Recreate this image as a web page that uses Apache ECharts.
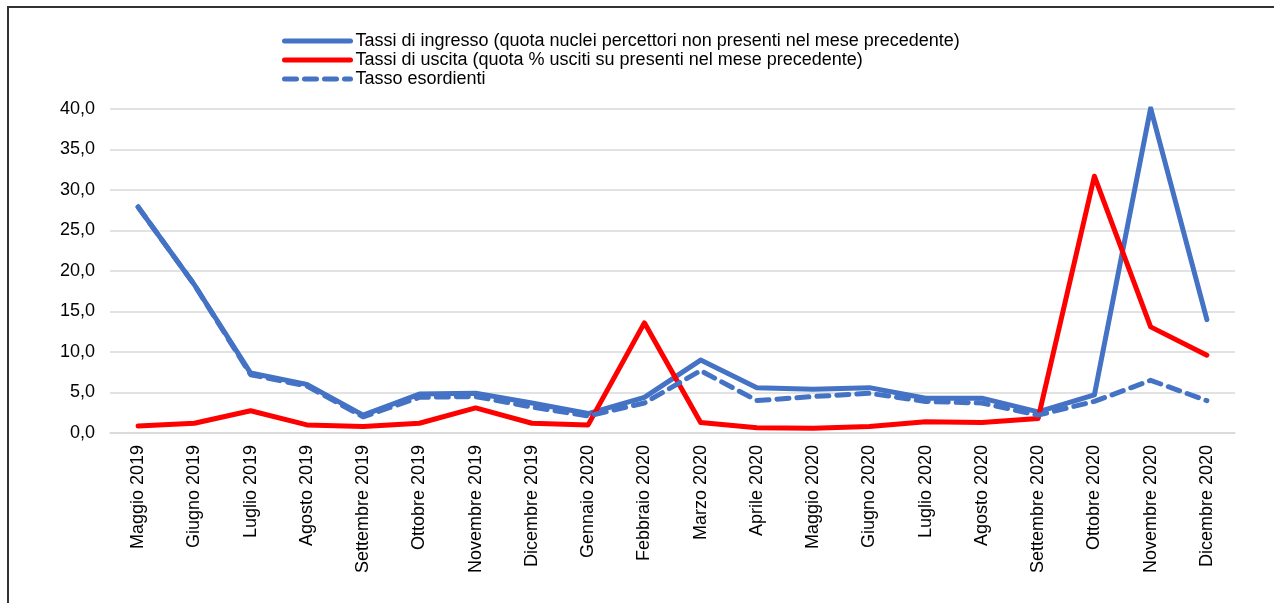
<!DOCTYPE html>
<html>
<head>
<meta charset="utf-8">
<script src="https://cdn.jsdelivr.net/npm/echarts@6/dist/echarts.min.js"></script>
<style>
html,body{margin:0;padding:0;background:#fff;overflow:hidden;}
#frame{position:absolute;left:7px;top:6px;width:1400px;height:700px;border:2px solid #333;box-sizing:border-box;}
#chart{position:absolute;left:0;top:0;width:1274px;height:603px;}
</style>
</head>
<body>
<div id="frame"></div>
<div id="chart"></div>
<script>
const categories = ['Maggio 2019','Giugno 2019','Luglio 2019','Agosto 2019','Settembre 2019','Ottobre 2019','Novembre 2019','Dicembre 2019','Gennaio 2020','Febbraio 2020','Marzo 2020','Aprile 2020','Maggio 2020','Giugno 2020','Luglio 2020','Agosto 2020','Settembre 2020','Ottobre 2020','Novembre 2020','Dicembre 2020'];
const ingresso = [27.9,18.3,7.4,6.0,2.2,4.8,4.9,3.7,2.4,4.4,9.0,5.6,5.4,5.6,4.3,4.3,2.6,4.7,40.1,14.0];
const uscita = [0.86,1.2,2.75,1.0,0.8,1.2,3.1,1.2,1.0,13.6,1.3,0.65,0.6,0.8,1.4,1.3,1.8,31.7,13.1,9.6];
const esordienti = [27.9,18.3,7.2,5.8,2.0,4.4,4.5,3.2,2.1,3.7,7.7,4.0,4.5,4.9,3.9,3.7,2.2,3.9,6.5,4.0];
const seriesNames = ['Tassi di ingresso (quota nuclei percettori non presenti nel mese precedente)','Tassi di uscita (quota % usciti su presenti nel mese precedente)','Tasso esordienti'];

const chart = echarts.init(document.getElementById('chart'));
const font = 'Liberation Sans, Arial, sans-serif';
chart.setOption({
  animation:false,
  backgroundColor:'transparent',
  textStyle:{fontFamily:font},
  legend:{
    orient:'vertical',
    left:277, top:27,
    itemWidth:66, itemHeight:10, itemGap:1,
    itemStyle:{opacity:0},
    lineStyle:{width:5},
    textStyle:{fontFamily:font,fontSize:18,color:'#000'},
    data:seriesNames
  },
  grid:{left:110,right:39,top:109,bottom:170},
  xAxis:{
    type:'category',
    data:categories,
    boundaryGap:true,
    axisLine:{lineStyle:{color:'#d9d9d9',width:1.5}},
    axisTick:{show:false},
    axisLabel:{rotate:90,fontFamily:font,fontSize:18,color:'#000',margin:12,interval:0}
  },
  yAxis:{
    type:'value',min:0,max:40,interval:5,
    axisLine:{show:false},axisTick:{show:false},
    splitLine:{lineStyle:{color:'#d9d9d9',width:1.5}},
    axisLabel:{fontFamily:font,fontSize:18,color:'#000',margin:15,formatter:v=>v.toFixed(1).replace('.',',')}
  },
  series:[
    {name:seriesNames[0],type:'line',data:ingresso,symbol:'none',lineStyle:{color:'#4472C4',width:5,cap:'round',join:'round'},itemStyle:{color:'#4472C4'}},
    {name:seriesNames[1],type:'line',data:uscita,symbol:'none',lineStyle:{color:'#FF0000',width:5,cap:'round',join:'round'},itemStyle:{color:'#FF0000'}},
    {name:seriesNames[2],type:'line',data:esordienti,symbol:'none',lineStyle:{color:'#4472C4',width:5,type:[12,8],cap:'round',join:'round'},itemStyle:{color:'#4472C4'}}
  ]
});
</script>
</body>
</html>
